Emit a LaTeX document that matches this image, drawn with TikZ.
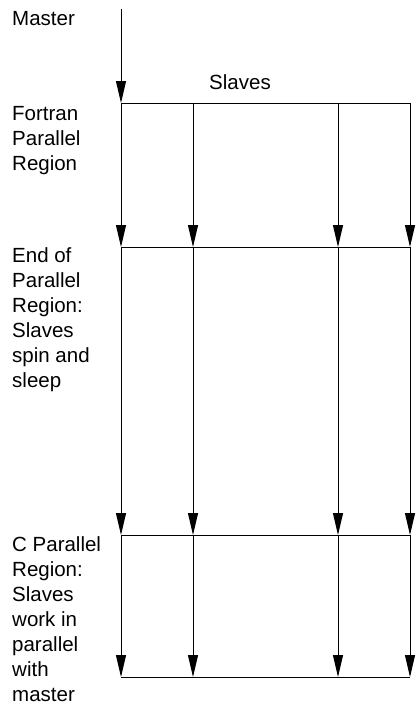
\documentclass[tikz,border=0pt]{standalone}
\usepackage{fontspec}
\setmainfont{Liberation Sans}
\usetikzlibrary{arrows.meta}

\begin{document}
\begin{tikzpicture}[
    x=1pt, y=-1pt,
    flow/.style={line width=1pt, -{Triangle[length=22pt, width=10pt]}},
    bar/.style={line width=1pt},
    sidetext/.style={anchor=north west, inner sep=0pt, align=left, font=\fontsize{20.5}{25}\selectfont}
]
   \useasboundingbox (0,0) rectangle (417,709);

   % Grid points: columns x rows
   \foreach \c/\x in {1/121, 2/193, 3/338, 4/410} {
      \foreach \r/\y in {1/103, 2/247, 3/535, 4/677}
         \coordinate (p\c\r) at (\x,\y);
   }
   \coordinate (top) at (121,9);

   % Labels (first line carries a strut, so north = baseline - 17.5pt)
   \node[sidetext] (master) at (12,7.5) {\strut Master};
   \node[sidetext, anchor=base] (slaves) at (240,89) {Slaves};
   \node[sidetext] (fortran) at (12,102.5) {\strut Fortran\\Parallel\\Region};
   \node[sidetext] (endpar) at (12,244.5) {\strut End of\\Parallel\\Region:\\Slaves\\spin and\\sleep};
   \node[sidetext] (cpar) at (12,533.5) {\strut C Parallel\\Region:\\Slaves\\work in\\parallel\\with\\master};

   % Master thread
   \draw[flow] (top) -- (p11);

   % Bars
   \foreach \r in {1,2,3,4}
      \draw[bar] (p1\r) -- (p4\r);

   % Threads
   \foreach \c in {1,2,3,4} {
      \draw[flow] (p\c1) -- (p\c2);
      \draw[flow] (p\c2) -- (p\c3);
      \draw[flow] (p\c3) -- (p\c4);
   }
\end{tikzpicture}
\end{document}
